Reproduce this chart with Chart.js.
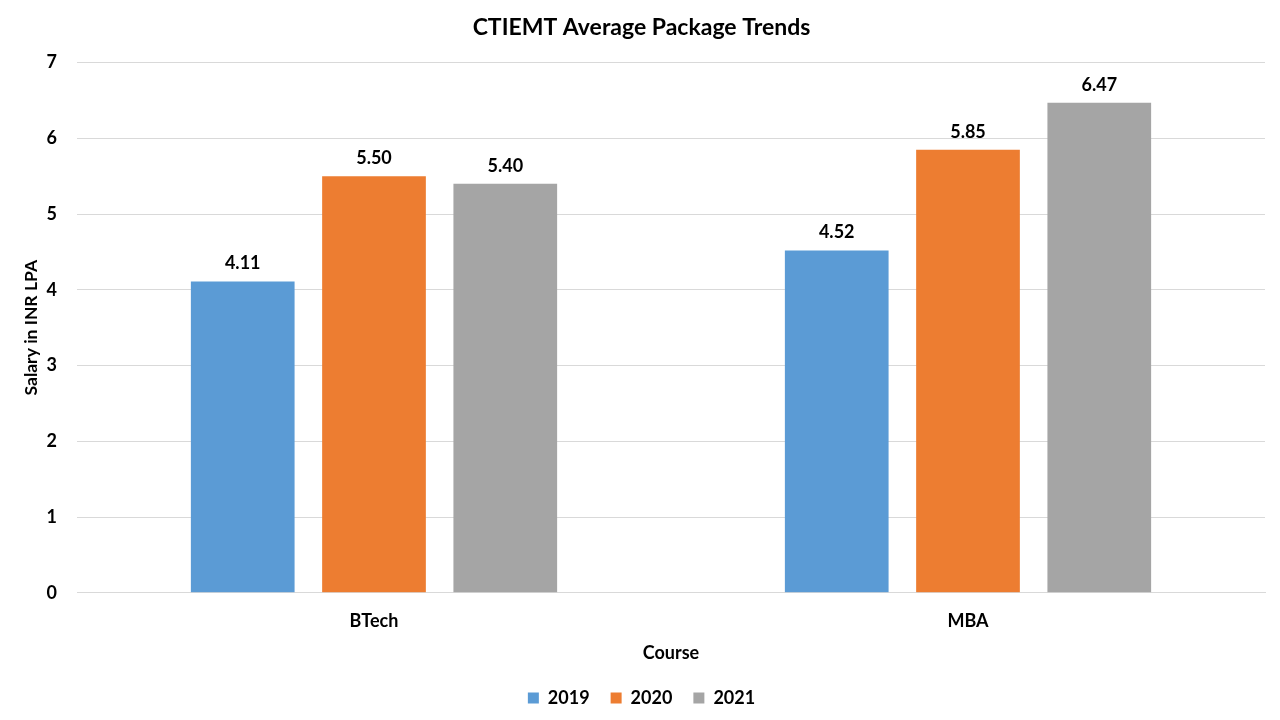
<!DOCTYPE html>
<html>
<head>
<meta charset="utf-8">
<script src="https://cdn.jsdelivr.net/npm/chart.js@4.4.1/dist/chart.umd.min.js"></script>
<style>
  html, body { margin: 0; padding: 0; background: #fff; }
  #wrap { width: 1280px; height: 720px; }
</style>
</head>
<body>
<div id="wrap"><canvas id="myBarChart" width="1280" height="720"></canvas></div>
<script>
// chart data
var courses = ['BTech', 'MBA'];
var years = ['2019', '2020', '2021'];
var values2019 = [4.11, 4.52];
var values2020 = [5.50, 5.85];
var values2021 = [5.40, 6.47];
var yTicks = [0, 1, 2, 3, 4, 5, 6, 7];

var FONT = 'Lato, "Open Sans", sans-serif';

// draws the numbers on top of each bar
var barLabels = {
  id: 'barLabels',
  afterDatasetsDraw: function (chart) {
    var ctx = chart.ctx;
    ctx.save();
    ctx.font = 'bold 18px ' + FONT;
    ctx.fillStyle = '#000';
    ctx.textAlign = 'center';
    ctx.textBaseline = 'bottom';
    chart.data.datasets.forEach(function (ds, i) {
      chart.getDatasetMeta(i).data.forEach(function (bar, j) {
        ctx.fillText(ds.data[j].toFixed(2), bar.x, bar.y - 9);
      });
    });
    ctx.restore();
  }
};

var ctx = document.getElementById('myBarChart').getContext('2d');
var myBarChart = new Chart(ctx, {
  type: 'bar',
  data: {
    labels: courses,
    datasets: [
      { label: years[0], data: values2019, backgroundColor: '#5B9BD5' },
      { label: years[1], data: values2020, backgroundColor: '#ED7D31' },
      { label: years[2], data: values2021, backgroundColor: '#A5A5A5' }
    ]
  },
  options: {
    responsive: false,
    animation: false,
    categoryPercentage: 0.663,
    barPercentage: 0.79,
    layout: { padding: { left: 18, right: 15, top: 6, bottom: 3 } },
    scales: {
      x: {
        grid: { display: false },
        border: { color: '#d9d9d9' },
        ticks: { color: '#000', font: { family: FONT, size: 18, weight: 'bold' }, padding: 10 },
        title: { display: true, text: 'Course', color: '#000', font: { family: FONT, size: 18, weight: 'bold' }, padding: { top: 0 } }
      },
      y: {
        min: 0,
        max: 7,
        afterBuildTicks: function (axis) {
          axis.ticks = yTicks.map(function (v) { return { value: v }; });
        },
        afterFit: function (axis) { axis.width = 59; },
        grid: { color: '#d9d9d9', drawTicks: false },
        border: { display: false },
        ticks: { color: '#000', font: { family: FONT, size: 18, weight: 'bold' }, padding: 20 },
        title: { display: true, text: 'Salary in INR LPA', color: '#000', font: { family: FONT, size: 17.5, weight: 'bold' }, padding: { top: 3 } }
      }
    },
    plugins: {
      title: {
        display: true,
        text: 'CTIEMT Average Package Trends',
        color: '#000',
        font: { family: FONT, size: 23, weight: 'bold' },
        padding: { top: 8, bottom: 21 }
      },
      legend: {
        position: 'bottom',
        labels: {
          color: '#000',
          boxWidth: 11,
          boxHeight: 11,
          font: { family: FONT, size: 18, weight: 'bold' },
          padding: 21
        }
      },
      tooltip: { enabled: false }
    }
  },
  plugins: [barLabels]
});
</script>
</body>
</html>
